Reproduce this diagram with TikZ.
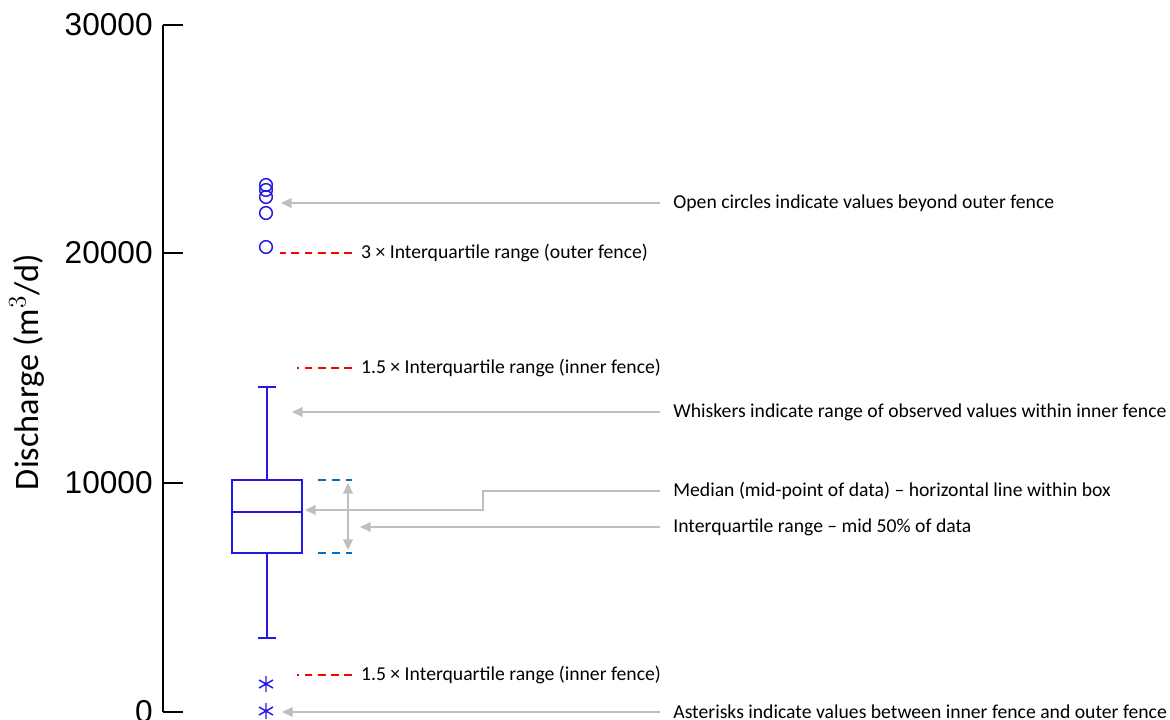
\documentclass[tikz,border=0pt]{standalone}
\usepackage{fontspec}
\setmainfont{Carlito}
\newfontfamily\axisfont{Liberation Sans}
\usetikzlibrary{arrows.meta,positioning}

\definecolor{bxblue}{RGB}{35,25,225}
\definecolor{qblue}{RGB}{0,112,192}
\definecolor{callgray}{RGB}{191,191,191}
\definecolor{fencered}{RGB}{255,0,0}

\tikzset{
  boxline/.style={draw=bxblue, line width=1.2pt},
  axisline/.style={draw=black, line width=1.1pt},
  ticklbl/.style={font=\axisfont\fontsize{18}{20}\selectfont, inner sep=0pt},
  callout/.style={draw=callgray, line width=0.85pt, -{Triangle[length=6pt,width=5.5pt]}},
  fenceline/.style={draw=fencered, line width=0.85pt, dash pattern=on 4.5pt off 3pt},
  qline/.style={draw=qblue, line width=0.85pt, dash pattern=on 4.5pt off 3.5pt},
  note/.style={anchor=west, inner xsep=7.4pt, inner ysep=0pt, font=\fontsize{11.2}{13}\selectfont},
  fence/.style={anchor=west, inner xsep=5pt, inner ysep=0pt, font=\fontsize{11.2}{13}\selectfont},
  outlier/.style={circle, draw=bxblue, line width=0.85pt, minimum size=7.2pt, inner sep=0pt}
}

\begin{document}
\begin{tikzpicture}[x=0.02cm, y=-0.02cm]
\useasboundingbox (0,0) rectangle (1170,720);

% axis
\draw[axisline] (163,25) -- (163,712);
\foreach \v/\ty in {0/712,10000/483,20000/253,30000/25} {
  \draw[axisline] (163,\ty) -- (183,\ty);
  \node[ticklbl, anchor=east] (t\v) at (153,\ty) {\v};
}
\node[rotate=90, font=\fontsize{19.5}{22}\selectfont] (ylab) at (27,372) {Discharge (m$^{3}$/d)};

% box and whiskers
\draw[boxline] (232,480) rectangle (302,553);
\draw[boxline] (232,512) -- (302,512);
\draw[boxline] (267,480) -- (267,387);
\draw[boxline] (258,387) -- (276,387);
\draw[boxline] (267,553) -- (267,638);
\draw[boxline] (258,638) -- (276,638);

% outliers
\node[outlier] (c1) at (266,185) {};
\node[outlier] (c2) at (266,190) {};
\node[outlier] (c3) at (266,197) {};
\node[outlier] (c4) at (266,213) {};
\node[outlier] (c5) at (266,247) {};
\foreach \nm/\ay in {s1/684,s2/711} {
  \coordinate (\nm) at (266,\ay);
  \draw[bxblue, line width=0.85pt] (\nm) +(0,-8) -- +(0,8)
    (\nm) +(-7,-4) -- +(7,4) (\nm) +(-7,4) -- +(7,-4);
}

% fences
\node[fence] (outerf) at (352,253) {3 × Interquartile range (outer fence)};
\coordinate (outerend) at (280,253);
\draw[fenceline] (outerf.west) -- (outerend);
\node[fence] (innerhi) at (352,368) {1.5 × Interquartile range (inner fence)};
\coordinate (innerhiend) at (297,368);
\draw[fenceline] (innerhi.west) -- (innerhiend);
\node[fence] (innerlo) at (352,675) {1.5 × Interquartile range (inner fence)};
\coordinate (innerloend) at (297,675);
\draw[fenceline] (innerlo.west) -- (innerloend);

% interquartile marks
\coordinate (q3a) at (318,480);
\coordinate (q3b) at (352,480);
\coordinate (q1a) at (318,553);
\coordinate (q1b) at (352,553);
\draw[qline] (q3a) -- (q3b);
\draw[qline] (q1a) -- (q1b);
\coordinate (iqtop) at (348,483);
\coordinate (iqbot) at (348,550);
\draw[callout, {Triangle[length=6pt,width=5.5pt]}-{Triangle[length=6pt,width=5.5pt]}] (iqtop) -- (iqbot);

% notes
\node[note] (ncirc) at (660,203) {Open circles indicate values beyond outer fence};
\coordinate (circtip) at (281,203);
\draw[callout] (ncirc.west) -- (circtip);

\node[note] (nwhisk) at (660,412) {Whiskers indicate range of observed values within inner fence};
\coordinate (whisktip) at (292,412);
\draw[callout] (nwhisk.west) -- (whisktip);

\node[note] (nmed) at (660,491) {Median (mid-point of data) – horizontal line within box};
\coordinate (medtip) at (305,510);
\draw[callout] (nmed.west) -- (483,491) -- (483,510) -- (medtip);

\node[note] (niqr) at (660,527) {Interquartile range – mid 50\% of data};
\coordinate (iqrtip) at (360,527);
\draw[callout] (niqr.west) -- (iqrtip);

\node[note] (nast) at (660,712) {Asterisks indicate values between inner fence and outer fence};
\coordinate (asttip) at (282,712);
\draw[callout] (nast.west) -- (asttip);
\end{tikzpicture}
\end{document}
